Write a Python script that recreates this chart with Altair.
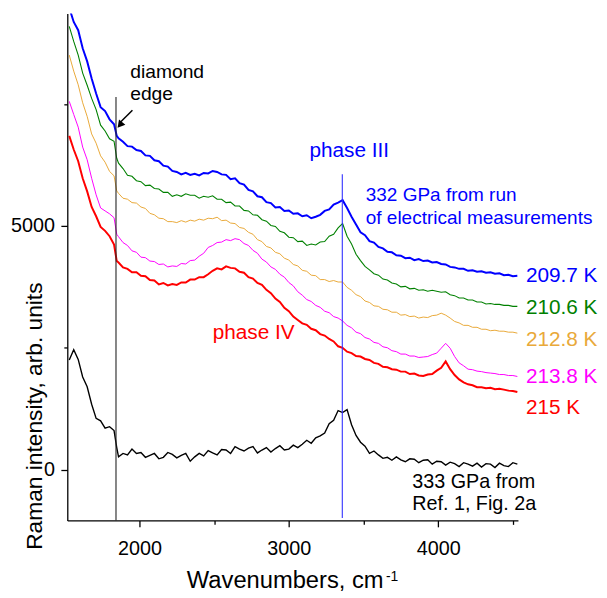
import altair as alt
import pandas as pd

FONT = "Liberation Sans"

# ---------------- data ----------------
wavenumber = [1530, 1560, 1590, 1620, 1650, 1680, 1710, 1740, 1770, 1800, 1830, 1848,
              1860, 1890, 1920, 1950, 1980, 2010, 2040, 2070, 2100, 2130, 2160, 2190, 2220, 2250, 2280, 2310, 2340, 2370,
              2400, 2430, 2460, 2490, 2520, 2550, 2580, 2610, 2640, 2670, 2700, 2730, 2760, 2790, 2820, 2850, 2880, 2910, 2940, 2970,
              3000, 3030, 3060, 3090, 3120, 3150, 3180, 3210, 3240, 3270, 3300, 3330, 3360, 3390, 3420, 3450, 3480, 3510, 3540, 3570,
              3600, 3630, 3660, 3690, 3720, 3750, 3780, 3810, 3840, 3870, 3900, 3930, 3960, 3990, 4020, 4050, 4080, 4110, 4140, 4170,
              4200, 4230, 4260, 4290, 4320, 4350, 4380, 4410, 4440, 4470, 4500, 4530]

k209_7 = [9480, 9190, 9020, 8650, 8380, 8030, 7720, 7440, 7360, 7190, 7090, 6850,
          6800, 6730, 6640, 6630, 6560, 6540, 6450, 6440, 6350, 6330, 6240, 6220, 6130, 6110, 6060, 6090, 6050, 6070,
          6040, 6090, 6080, 6130, 6110, 6060, 6050, 5960, 5980, 5880, 5850, 5740, 5710, 5610, 5590, 5490, 5470, 5380, 5390, 5310,
          5320, 5250, 5260, 5200, 5220, 5160, 5190, 5230, 5310, 5340, 5440, 5480, 5530, 5370, 5190, 5030, 4870, 4810, 4690, 4660,
          4570, 4540, 4470, 4460, 4400, 4390, 4340, 4350, 4300, 4320, 4280, 4290, 4250, 4260, 4220, 4210, 4160, 4150, 4120, 4120,
          4080, 4090, 4060, 4070, 4040, 4050, 4020, 4030, 3990, 4000, 3970, 3980]

k210_6 = [9100, 8790, 8510, 8140, 7890, 7620, 7390, 7070, 6950, 6790, 6740, 6390,
          6290, 6180, 6040, 6020, 5930, 5910, 5830, 5840, 5770, 5760, 5690, 5690, 5610, 5640, 5610, 5660, 5630, 5630,
          5570, 5610, 5590, 5620, 5550, 5550, 5480, 5490, 5410, 5410, 5320, 5310, 5230, 5220, 5130, 5100, 5010, 4990, 4890, 4860,
          4770, 4760, 4680, 4690, 4600, 4630, 4610, 4670, 4680, 4790, 4830, 4960, 5050, 4790, 4630, 4420, 4290, 4170, 4100, 4020,
          3990, 3910, 3890, 3830, 3810, 3750, 3760, 3710, 3720, 3680, 3690, 3660, 3680, 3660, 3640, 3650, 3590, 3570, 3520, 3520,
          3480, 3480, 3440, 3440, 3400, 3410, 3390, 3390, 3370, 3370, 3350, 3350]

k212_8 = [8510, 8180, 7900, 7530, 7250, 6890, 6700, 6440, 6310, 6120, 6030, 5720,
          5670, 5570, 5550, 5480, 5470, 5390, 5360, 5260, 5230, 5160, 5150, 5090, 5090, 5070, 5110, 5080, 5120, 5100,
          5140, 5120, 5160, 5150, 5180, 5110, 5120, 5060, 5050, 4970, 4950, 4870, 4830, 4720, 4680, 4580, 4550, 4460, 4430, 4340,
          4300, 4210, 4180, 4090, 4070, 3990, 3980, 3900, 3900, 3860, 3880, 3850, 3850, 3740, 3680, 3590, 3550, 3460, 3430, 3360,
          3350, 3290, 3280, 3230, 3230, 3170, 3180, 3140, 3150, 3110, 3130, 3120, 3160, 3170, 3210, 3170, 3110, 3040, 3010, 2960,
          2960, 2920, 2920, 2880, 2880, 2850, 2860, 2840, 2840, 2820, 2820, 2800]

k213_8 = [7560, 7290, 7030, 6620, 6360, 5980, 5640, 5370, 5310, 5250, 5170, 4830,
          4780, 4660, 4600, 4490, 4460, 4360, 4350, 4280, 4270, 4210, 4220, 4160, 4180, 4170, 4230, 4220, 4290, 4300,
          4380, 4440, 4560, 4600, 4660, 4670, 4720, 4700, 4740, 4720, 4640, 4600, 4500, 4440, 4320, 4260, 4160, 4110, 4010, 3950,
          3840, 3770, 3650, 3580, 3490, 3450, 3370, 3330, 3250, 3220, 3140, 3110, 3050, 2960, 2910, 2820, 2790, 2710, 2680, 2610,
          2590, 2520, 2500, 2440, 2420, 2370, 2370, 2330, 2330, 2300, 2310, 2320, 2360, 2390, 2490, 2590, 2490, 2320, 2190, 2130,
          2060, 2050, 2020, 2010, 1990, 1980, 1970, 1950, 1950, 1930, 1930, 1910]

k215 = [6850, 6570, 6330, 5980, 5710, 5390, 5200, 4980, 4900, 4790, 4620, 4280,
        4250, 4150, 4120, 4050, 4050, 3980, 3970, 3890, 3880, 3800, 3830, 3780, 3810, 3790, 3840, 3840, 3900, 3900,
        3950, 3950, 4010, 4080, 4130, 4110, 4170, 4140, 4130, 4060, 4040, 3950, 3920, 3830, 3790, 3690, 3620, 3510, 3440, 3320,
        3250, 3140, 3070, 3000, 2970, 2890, 2860, 2780, 2750, 2680, 2630, 2530, 2500, 2420, 2390, 2330, 2320, 2270, 2250, 2190,
        2170, 2110, 2100, 2060, 2050, 2010, 2010, 1960, 1970, 1930, 1920, 1950, 1960, 2030, 2090, 2220, 2060, 1940, 1850, 1790,
        1750, 1730, 1690, 1690, 1670, 1680, 1650, 1660, 1640, 1620, 1610, 1590]

gpa333 = [2250, 2460, 2260, 1900, 1700, 1340, 1050, 1000, 850, 880, 800, 450,
          260, 330, 300, 420, 330, 350, 250, 290, 330, 220, 250, 350, 310, 240, 290, 330, 170, 260,
          330, 280, 390, 340, 300, 410, 400, 330, 470, 420, 380, 440, 470, 340, 400, 450, 360, 430, 490, 400,
          420, 500, 450, 520, 600, 540, 650, 690, 750, 940, 1010, 1210, 1170, 1230, 920, 700, 560, 480, 330, 380,
          300, 230, 250, 190, 260, 200, 160, 220, 210, 140, 190, 200, 110, 170, 160, 90, 150, 120, 60, 140,
          110, 70, 130, 50, 120, 110, 40, 130, 80, 60, 140, 110]

series_values = [gpa333, k215, k213_8, k212_8, k210_6, k209_7]
series_colors = ["#000000", "#FF0000", "#FF00FF", "#E9A93A", "#008000", "#0000FF"]
series_widths = [1.4, 2.0, 1.0, 1.0, 1.1, 2.0]

# annotations
ann_text = ["diamond", "edge", "phase III", "332 GPa from run", "of electrical measurements",
            "209.7 K", "210.6 K", "212.8 K", "213.8 K", "215 K", "phase IV",
            "333 GPa from", "Ref. 1, Fig. 2a"]
ann_x = [1938, 1938, 3138, 3515, 3515, 4587, 4587, 4587, 4587, 4587, 2490, 3826, 3826]
ann_y = [8030, 7583, 6427, 5513, 5045, 3855, 3194, 2537, 1774, 1136, 2672, -386, -828]
ann_size = [19.5, 19.5, 21, 19.2, 19.2, 21, 21, 21, 21, 21, 21, 20, 20]
ann_color = ["#000000", "#000000", "#0000FF", "#0000FF", "#0000FF", "#0000FF", "#008000",
             "#E9A93A", "#FF00FF", "#FF0000", "#FF0000", "#000000", "#000000"]

edge_x, edge_top = 1843, 7650
phase3_x, phase3_top, phase3_bottom = 3358, 6060, -994
arrow_from = (1953, 7378)
arrow_to = (1867, 7113)
arrow_head = (1869, 7075)

X_DOMAIN = [1517, 4534]
Y_DOMAIN = [-1045, 9365]

# ---------------- chart ----------------
xscale = alt.Scale(domain=X_DOMAIN, nice=False, zero=False)
yscale = alt.Scale(domain=Y_DOMAIN, nice=False, zero=False)

x_axis = alt.Axis(
    values=[2000, 2500, 3000, 3500, 4000, 4500], format="d",
    labelExpr="datum.value % 1000 === 0 ? datum.label : ''",
    tickSize={"condition": {"test": "datum.value % 1000 === 0", "value": 6.5}, "value": 4},
    labelPadding=12, labelOverlap=False, labelFlush=False,
    title="Wavenumbers, cm", titleX=220, titleY=68, titleAlign="center",
    titleBaseline="alphabetic", titleFontSize=24, grid=False,
)
y_axis = alt.Axis(
    values=[0, 2500, 5000, 7500], format="d",
    labelExpr="datum.value % 5000 === 0 ? datum.label : ''",
    tickSize={"condition": {"test": "datum.value % 5000 === 0", "value": 6.5}, "value": 3.5},
    labelPadding=6.5, labelOverlap=False, labelFlush=False,
    title="Raman intensity, arb. units", titleAngle=270, titleX=-26, titleY=407,
    titleAlign="center", titleBaseline="alphabetic", titleFontSize=23, grid=False,
)

def X(field="x"):
    return alt.X(f"{field}:Q", scale=xscale, axis=x_axis)

def Y(field="y"):
    return alt.Y(f"{field}:Q", scale=yscale, axis=y_axis)

layers = []
for vals, col, w in zip(series_values, series_colors, series_widths):
    df = pd.DataFrame({"x": wavenumber, "y": vals})
    layers.append(
        alt.Chart(df).mark_line(color=col, strokeWidth=w, clip=True).encode(x=X(), y=Y())
    )

rules = pd.DataFrame({"x": [edge_x, phase3_x], "y": [edge_top, phase3_top],
                      "y2": [Y_DOMAIN[0], phase3_bottom], "c": ["#222222", "#3030FF"]})
layers.append(
    alt.Chart(rules).mark_rule(strokeWidth=1.1).encode(
        x=X(), y=Y(), y2="y2:Q", color=alt.Color("c:N", scale=None))
)

arrow = pd.DataFrame({"x": [arrow_from[0]], "y": [arrow_from[1]],
                      "x2": [arrow_to[0]], "y2": [arrow_to[1]]})
layers.append(
    alt.Chart(arrow).mark_rule(strokeWidth=1.5, color="black").encode(
        x=X(), y=Y(), x2="x2:Q", y2="y2:Q")
)
head = pd.DataFrame({"x": [arrow_head[0]], "y": [arrow_head[1]]})
layers.append(
    alt.Chart(head).mark_point(shape="triangle-up", filled=True, size=70, angle=220,
                               color="black", opacity=1).encode(x=X(), y=Y())
)

ann = pd.DataFrame({"x": ann_x, "y": ann_y, "t": ann_text, "c": ann_color, "s": ann_size})
layers.append(
    alt.Chart(ann).mark_text(align="left", baseline="alphabetic", font=FONT).encode(
        x=X(), y=Y(), text="t:N", color=alt.Color("c:N", scale=None),
        size=alt.Size("s:Q", scale=None))
)

sup = pd.DataFrame({"x": [3650], "y": [-2290], "t": ["-1"]})
layers.append(
    alt.Chart(sup).mark_text(align="left", baseline="alphabetic", font=FONT, fontSize=14,
                             color="black").encode(x=X(), y=Y(), text="t:N")
)

chart = alt.layer(*layers).properties(
    width=456, height=513,
    autosize=alt.AutoSizeParams(type="none"),
    padding={"left": 60, "top": 2, "right": 82, "bottom": 72},
).configure_view(strokeWidth=0).configure_axis(
    domainColor="black", domainWidth=1.3, tickColor="black", tickWidth=1.3,
    labelFont=FONT, labelFontSize=20, labelColor="black",
    titleFont=FONT, titleColor="black", titleFontWeight="normal",
)

chart.save("out.html", embed_options={"renderer": "svg", "actions": False})
